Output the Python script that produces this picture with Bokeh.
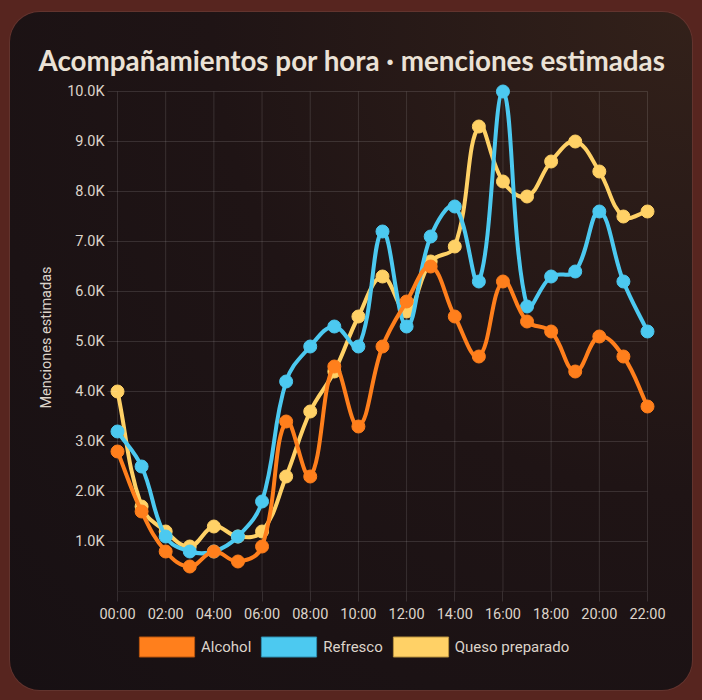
import math
import numpy as np
from bokeh.plotting import figure
from bokeh.layouts import column
from bokeh.models import (Range1d, FixedTicker, Legend, LegendItem, ColumnDataSource,
                          GlobalInlineStyleSheet)
from bokeh.embed import file_html
from bokeh.resources import INLINE

# ---------------- data ----------------
hours = [0, 1, 2, 3, 4, 5, 6, 7, 8, 9, 10, 11, 12, 13, 14, 15, 16, 17, 18, 19, 20, 21, 22]
alcohol = [2800, 1600, 800, 500, 800, 600, 900, 3400, 2300, 4500, 3300, 4900, 5800,
           6500, 5500, 4700, 6200, 5400, 5200, 4400, 5100, 4700, 3700]
refresco = [3200, 2500, 1100, 800, 800, 1100, 1800, 4200, 4900, 5300, 4900, 7200, 5300,
            7100, 7700, 6200, 10000, 5700, 6300, 6400, 7600, 6200, 5200]
queso = [4000, 1700, 1200, 900, 1300, 1100, 1200, 2300, 3600, 4400, 5500, 6300, 5600,
         6600, 6900, 9300, 8200, 7900, 8600, 9000, 8400, 7500, 7600]
series_names = ["Alcohol", "Refresco", "Queso preparado"]
x_ticks = [0, 2, 4, 6, 8, 10, 12, 14, 16, 18, 20, 22]
x_tick_labels = ["00:00", "02:00", "04:00", "06:00", "08:00", "10:00", "12:00",
                 "14:00", "16:00", "18:00", "20:00", "22:00"]
y_ticks = [1000, 2000, 3000, 4000, 5000, 6000, 7000, 8000, 9000, 10000]
y_tick_labels = ["1.0K", "2.0K", "3.0K", "4.0K", "5.0K", "6.0K", "7.0K", "8.0K", "9.0K", "10.0K"]

# ---------------- style ----------------
COLORS = {"Alcohol": "#ff7f1c", "Refresco": "#4cc9f0", "Queso preparado": "#ffd166"}
EDGES = {"Alcohol": "#b9560f", "Refresco": "#2f8fb0", "Queso preparado": "#b8913f"}
OUTER = "#57251f"
PANEL_BG = "radial-gradient(circle at 100% 0%, #33211a 0%, #1f1415 50%, #171013 100%)"
GRID = "#ffffff"
GRID_ALPHA = 0.12
TEXT = "#ddd4ca"
FONT = "Roboto"

X0, X1, Y0, Y1 = 0, 22, 0, 10000
AW, AH = 530, 500          # chart area (grid) size in px
PAD = 8                    # px of room round the chart area so edge dots are not clipped
SX = AW / (X1 - X0)
SY = AH / (Y1 - Y0)
TOTAL_W = 682

p = figure(frame_width=AW + 2 * PAD, frame_height=AH + PAD,
           min_border_left=99, min_border_right=37, min_border_top=71, min_border_bottom=37,
           x_range=Range1d(X0 - PAD / SX, X1 + PAD / SX),
           y_range=Range1d(Y0, Y1 + PAD / SY),
           output_backend="svg", toolbar_location=None,
           background_fill_alpha=0, border_fill_alpha=0,
           title="Acompañamientos por hora · menciones estimadas")
p.outline_line_color = None
p.xgrid.visible = False
p.ygrid.visible = False

t = p.title
t.text_font = "Lato"
t.text_font_style = "bold"
t.text_font_size = "27.8px"
t.text_color = "#ebe2d6"
t.align = "left"
t.offset = -71
t.standoff = 14

# grid lines of the chart area, from the tick lists
h_lines = [Y0] + y_ticks
p.segment(x0=[X0] * len(h_lines), x1=[X1] * len(h_lines), y0=h_lines, y1=h_lines,
          line_color=GRID, line_alpha=GRID_ALPHA, line_width=1)
p.segment(x0=x_ticks, x1=x_ticks, y0=[Y0] * len(x_ticks), y1=[Y1] * len(x_ticks),
          line_color=GRID, line_alpha=GRID_ALPHA, line_width=1)

for ax in (p.xaxis[0], p.yaxis[0]):
    ax.axis_line_color = None
    ax.major_tick_line_color = GRID
    ax.major_tick_line_alpha = GRID_ALPHA
    ax.minor_tick_line_color = None
    ax.major_label_text_color = TEXT
    ax.major_label_text_font = FONT
    ax.major_label_text_font_size = "14.5px"
    ax.axis_label_text_color = TEXT
    ax.axis_label_text_font = FONT
    ax.axis_label_text_font_style = "normal"

p.xaxis.ticker = FixedTicker(ticks=x_ticks)
p.xaxis.major_label_overrides = dict(zip(x_ticks, x_tick_labels))
p.xaxis.major_tick_out = 10
p.xaxis.major_tick_in = 0
p.xaxis.major_label_standoff = 4
p.yaxis.ticker = FixedTicker(ticks=y_ticks)
p.yaxis.major_label_overrides = dict(zip(y_ticks, y_tick_labels))
p.yaxis.major_tick_out = 2
p.yaxis.major_tick_in = PAD
p.yaxis.major_label_standoff = 3
p.yaxis.axis_label = "Menciones estimadas"
p.yaxis.axis_label_text_font_size = "14.5px"
p.yaxis.axis_label_standoff = 9


def spline_segments(xs, ys, tension=0.4):
    """Chart.js-like cubic spline control points, computed in pixel space."""
    n = len(xs)
    X = [x * SX for x in xs]
    Y = [y * SY for y in ys]
    prev_c, next_c = [], []
    for i in range(n):
        a = i - 1 if i > 0 else i
        b = i + 1 if i < n - 1 else i
        d01 = math.hypot(X[i] - X[a], Y[i] - Y[a])
        d12 = math.hypot(X[b] - X[i], Y[b] - Y[i])
        tot = d01 + d12
        s01 = d01 / tot if tot else 0
        s12 = d12 / tot if tot else 0
        fa, fb = tension * s01, tension * s12
        px = X[i] - fa * (X[b] - X[a]); py = Y[i] - fa * (Y[b] - Y[a])
        nx = X[i] + fb * (X[b] - X[a]); ny = Y[i] + fb * (Y[b] - Y[a])
        px = min(max(px, X0 * SX), X1 * SX); nx = min(max(nx, X0 * SX), X1 * SX)
        py = min(max(py, Y0 * SY), Y1 * SY); ny = min(max(ny, Y0 * SY), Y1 * SY)
        prev_c.append((px / SX, py / SY)); next_c.append((nx / SX, ny / SY))
    return dict(
        x0=xs[:-1], y0=ys[:-1], x1=xs[1:], y1=ys[1:],
        cx0=[c[0] for c in next_c[:-1]], cy0=[c[1] for c in next_c[:-1]],
        cx1=[c[0] for c in prev_c[1:]], cy1=[c[1] for c in prev_c[1:]],
    )


data = {"Alcohol": alcohol, "Refresco": refresco, "Queso preparado": queso}
for name in reversed(series_names):
    vals = data[name]
    src = ColumnDataSource(spline_segments(hours, vals))
    p.bezier(x0="x0", y0="y0", x1="x1", y1="y1", cx0="cx0", cy0="cy0", cx1="cx1", cy1="cy1",
             source=src, line_color=COLORS[name], line_width=4, line_cap="round")
    p.scatter(hours, vals, size=13, fill_color=COLORS[name], line_color=COLORS[name], line_width=1)

# ---------------- legend strip under the chart ----------------
LEG_H = 62
pl = figure(width=TOTAL_W, height=LEG_H, min_border=0, x_range=Range1d(0, 1), y_range=Range1d(0, 1),
            x_axis_location=None, y_axis_location=None,
            output_backend="svg", toolbar_location=None,
            background_fill_alpha=0, border_fill_alpha=0)
pl.grid.visible = False
pl.outline_line_color = None

items = []
nan = np.array([np.nan])   # legend-only proxies: nothing is drawn in the plot area
for name in series_names:
    proxy = pl.quad(left=nan, right=nan, top=nan, bottom=nan, fill_color=COLORS[name],
                    line_color=EDGES[name], line_width=1)
    items.append(LegendItem(label=name, renderers=[proxy]))

legend = Legend(items=items, orientation="horizontal", location=(23, 31),
                glyph_width=69, glyph_height=25, label_height=25, label_standoff=-2, spacing=3,
                padding=0, margin=0, background_fill_alpha=0, border_line_alpha=0,
                label_text_color=TEXT, label_text_font=FONT, label_text_font_size="15px")
pl.add_layout(legend, "center")

root = column(p, pl, spacing=0)
root.styles = {"border-radius": "30px", "overflow": "hidden", "margin": "12px 10px 0 10px",
               "background": PANEL_BG, "box-shadow": "0 0 0 1px rgba(255,255,255,0.07)"}
root.stylesheets = [GlobalInlineStyleSheet(css=f"body{{background:{OUTER};margin:0;}}")]

open("out.html", "w").write(file_html(root, INLINE))
